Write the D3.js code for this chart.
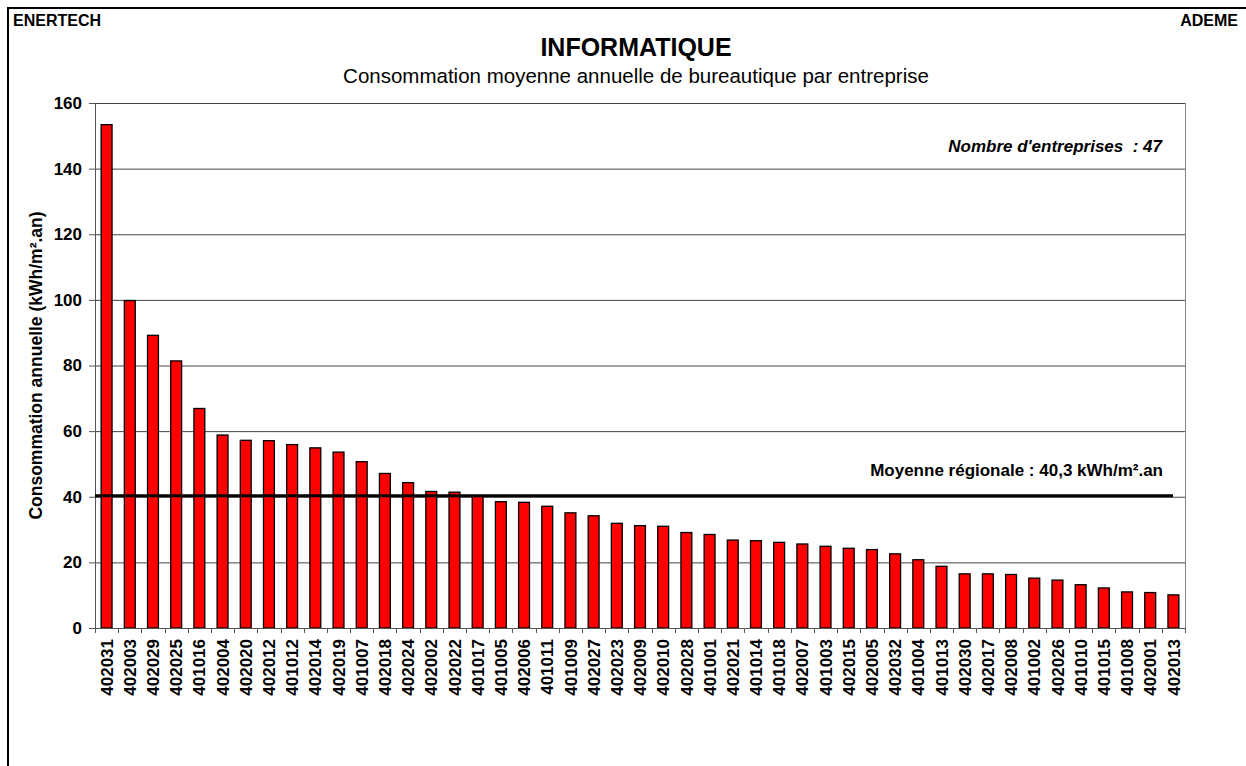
<!DOCTYPE html>
<html>
<head>
<meta charset="utf-8">
<script src="https://cdn.jsdelivr.net/npm/d3@7"></script>
<style>
  body { margin: 0; background: #fff; }
  svg text { font-family: "Liberation Sans", Arial, sans-serif; }
</style>
</head>
<body>
<div id="chart"></div>
<script>
// company codes, sorted by consumption
var companies = ["402031","402003","402029","402025","401016","402004","402020","402012","401012","402014",
  "402019","401007","402018","402024","402002","402022","401017","401005","402006","401011",
  "401009","402027","402023","402009","402010","402028","401001","402021","401014","401018",
  "402007","401003","402015","402005","402032","401004","401013","402030","402017","402008",
  "401002","402026","401010","401015","401008","402001","402013"];

// annual consumption (kWh/m².an)
var consumption = [153.4, 99.8, 89.2, 81.4, 66.9, 58.8, 57.2, 57.1, 55.9, 54.9,
  53.6, 50.7, 47.1, 44.3, 41.6, 41.4, 40.2, 38.5, 38.3, 37.1,
  35.1, 34.2, 31.9, 31.2, 31.0, 29.1, 28.5, 26.8, 26.6, 26.1,
  25.6, 24.9, 24.3, 23.9, 22.6, 20.8, 18.8, 16.5, 16.5, 16.3,
  15.2, 14.6, 13.2, 12.2, 11.0, 10.8, 10.1];

var yTicks = [0, 20, 40, 60, 80, 100, 120, 140, 160];
var regionalMean = 40.3;

var W = 1246, H = 766;
var margin = { top: 103, right: 61, bottom: 138, left: 95 };
var width = W - margin.left - margin.right,
    height = H - margin.top - margin.bottom;

var svg = d3.select("#chart").append("svg")
  .attr("width", W).attr("height", H);

// outer frame
svg.append("rect")
  .attr("x", 8).attr("y", 8).attr("width", W).attr("height", H)
  .attr("fill", "none").attr("stroke", "#000").attr("stroke-width", 2);

svg.append("text").attr("x", 13).attr("y", 26)
  .attr("font-size", 16).attr("font-weight", "bold").text("ENERTECH");
svg.append("text").attr("x", 1238).attr("y", 26).attr("text-anchor", "end")
  .attr("font-size", 16).attr("font-weight", "bold").text("ADEME");

svg.append("text").attr("x", 636).attr("y", 56).attr("text-anchor", "middle")
  .attr("font-size", 25).attr("font-weight", "bold").text("INFORMATIQUE");
svg.append("text").attr("x", 636).attr("y", 83).attr("text-anchor", "middle")
  .attr("font-size", 20.5).text("Consommation moyenne annuelle de bureautique par entreprise");

var g = svg.append("g")
  .attr("transform", "translate(" + margin.left + "," + margin.top + ")");

var x = d3.scaleBand()
  .domain(companies)
  .range([0, width])
  .paddingInner(0.53)
  .paddingOuter(0.265);

var y = d3.scaleLinear()
  .domain([0, 160])
  .range([height, 0]);

// gridlines
g.selectAll("line.grid")
  .data(yTicks.filter(function (d) { return d > 0; }))
  .enter().append("line")
  .attr("class", "grid")
  .attr("x1", 0).attr("x2", width)
  .attr("y1", function (d) { return y(d) + 0.5; })
  .attr("y2", function (d) { return y(d) + 0.5; })
  .attr("stroke", "#444").attr("stroke-width", 1);

// right border of plot area
g.append("line")
  .attr("x1", width + 0.5).attr("x2", width + 0.5)
  .attr("y1", 0).attr("y2", height)
  .attr("stroke", "#888").attr("stroke-width", 1);

// Y axis
var yAxis = g.append("g")
  .call(d3.axisLeft(y).tickValues(yTicks).tickSize(6).tickPadding(7));
yAxis.select(".domain").attr("stroke", "#555");
yAxis.selectAll(".tick line").attr("stroke", "#555");
yAxis.selectAll("text")
  .attr("font-family", "Liberation Sans, Arial, sans-serif")
  .attr("font-size", 17).attr("font-weight", "bold").attr("fill", "#000");

// bars
g.selectAll("rect.bar")
  .data(consumption)
  .enter().append("rect")
  .attr("class", "bar")
  .attr("x", function (d, i) { return x(companies[i]); })
  .attr("y", function (d) { return y(d); })
  .attr("width", x.bandwidth())
  .attr("height", function (d) { return height - y(d); })
  .attr("fill", "#ff0000")
  .attr("stroke", "#000").attr("stroke-width", 1.3);

// X axis
var xAxis = g.append("g")
  .attr("transform", "translate(0," + height + ")")
  .call(d3.axisBottom(x).tickSize(0).tickPadding(0));
xAxis.select(".domain").attr("stroke", "#555");
xAxis.selectAll("text")
  .attr("font-family", "Liberation Sans, Arial, sans-serif")
  .attr("font-size", 17).attr("font-weight", "bold").attr("fill", "#000")
  .attr("transform", "translate(0,11) rotate(-90)")
  .attr("text-anchor", "end")
  .attr("dx", 0).attr("dy", "0.36em");

// x tick marks between categories
g.selectAll("line.xtick")
  .data(d3.range(companies.length + 1))
  .enter().append("line")
  .attr("class", "xtick")
  .attr("x1", function (i) { return Math.round(i * x.step()) + 0.5; })
  .attr("x2", function (i) { return Math.round(i * x.step()) + 0.5; })
  .attr("y1", height).attr("y2", height + 5)
  .attr("stroke", "#555");

// regional mean
g.append("line")
  .attr("x1", 0).attr("x2", width - 12)
  .attr("y1", y(regionalMean)).attr("y2", y(regionalMean))
  .attr("stroke", "#000").attr("stroke-width", 3);

g.append("text")
  .attr("x", 1163 - margin.left).attr("y", 476 - margin.top)
  .attr("text-anchor", "end").attr("font-size", 17).attr("font-weight", "bold")
  .text("Moyenne régionale : 40,3 kWh/m².an");

g.append("text")
  .attr("x", 1162 - margin.left).attr("y", 152 - margin.top)
  .attr("text-anchor", "end").attr("font-size", 17).attr("font-weight", "bold")
  .attr("font-style", "italic")
  .style("white-space", "pre")
  .text("Nombre d'entreprises  : 47");

// y axis title
svg.append("text")
  .attr("transform", "translate(42," + (margin.top + height / 2) + ") rotate(-90)")
  .attr("text-anchor", "middle").attr("font-size", 17.5).attr("font-weight", "bold")
  .text("Consommation annuelle (kWh/m².an)");
</script>
</body>
</html>
